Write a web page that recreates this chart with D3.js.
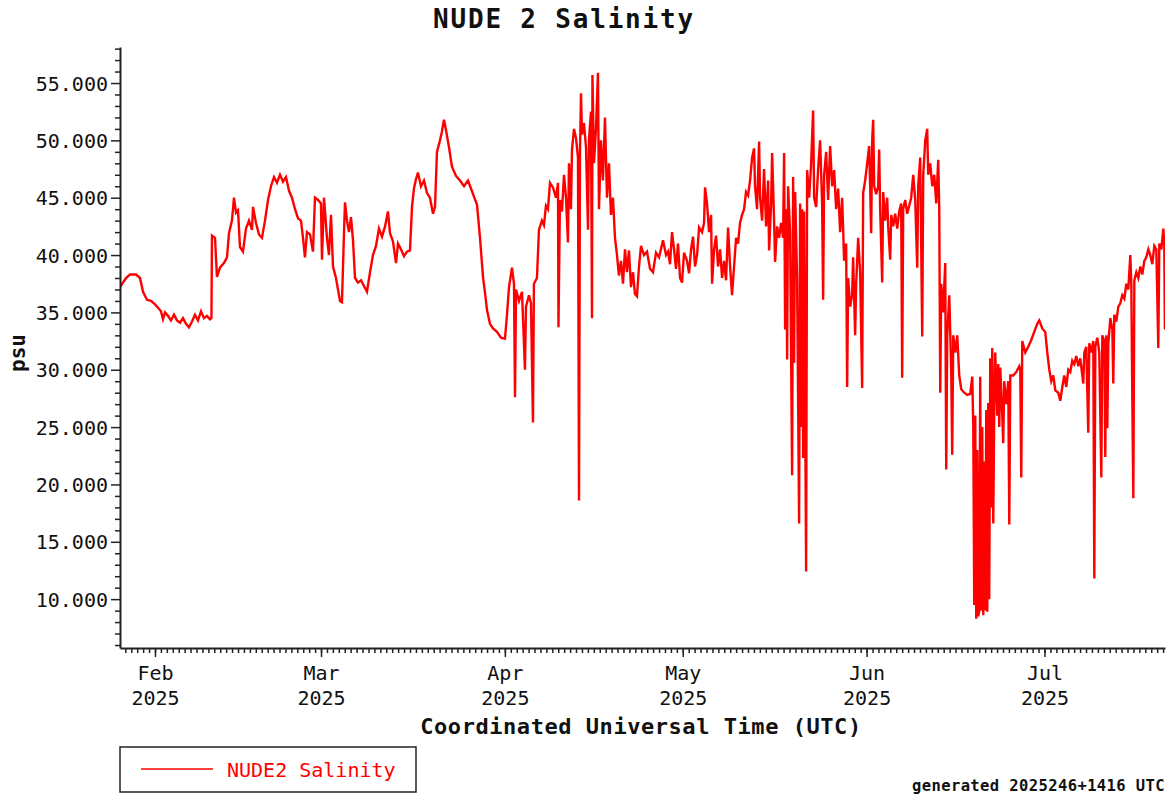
<!DOCTYPE html>
<html>
<head>
<meta charset="utf-8">
<script src="https://cdn.jsdelivr.net/npm/d3@7"></script>
<style>
  body { margin: 0; background: #fff; }
  text { font-family: "DejaVu Sans Mono", monospace; fill: #111; }
</style>
</head>
<body>
<div id="chart"></div>
<script>
// salinity readings: [day of 2025 counted from Jan 1 00:00 UTC, psu]
const readings = [
  [25.10,37.2],[25.60,37.6],[26.11,38.0],[26.78,38.3],[27.80,38.3],[28.47,38.0],[28.98,36.8],[29.65,36.1],
  [30.33,36.0],[31.00,35.7],[31.51,35.4],[32.01,35.1],[32.35,34.4],[32.69,35.0],[33.19,34.7],[33.70,34.3],
  [34.20,34.8],[34.71,34.3],[35.22,34.1],[35.72,34.5],[36.23,34.0],[36.73,33.7],[37.24,34.2],[37.75,34.8],
  [38.25,34.3],[38.76,35.1],[39.26,34.5],[39.77,34.7],[40.27,34.4],[40.52,34.5],[40.61,41.7],[41.12,41.5],
  [41.45,38.1],[41.96,38.9],[42.63,39.3],[43.14,39.8],[43.48,41.9],[43.98,43.0],[44.32,45.0],[44.66,43.7],
  [45.00,43.9],[45.33,40.7],[45.84,40.3],[46.34,42.3],[46.85,43.0],[47.36,42.2],[47.53,44.2],[48.03,42.8],
  [48.54,41.8],[49.04,41.5],[49.55,43.0],[50.06,44.8],[50.56,46.0],[51.07,46.8],[51.57,46.3],[52.08,47.0],
  [52.59,46.4],[53.09,46.8],[53.60,45.6],[54.10,45.0],[54.61,44.0],[55.12,43.2],[55.62,43.0],[55.96,41.5],
  [56.29,39.8],[56.63,42.0],[57.14,41.8],[57.64,40.3],[57.98,45.0],[58.49,44.8],[58.99,44.5],[59.16,39.6],
  [59.50,45.0],[60.00,41.5],[60.34,40.0],[60.68,43.5],[61.02,39.0],[61.52,38.0],[61.86,37.0],[62.20,36.0],
  [62.53,35.9],[62.87,41.9],[63.04,44.6],[63.38,43.0],[63.71,42.0],[64.05,43.3],[64.39,41.3],[64.73,38.0],
  [65.23,37.6],[65.74,37.8],[66.24,37.3],[66.75,36.8],[67.26,38.5],[67.76,40.0],[68.27,40.8],[68.77,42.3],
  [69.28,41.6],[69.79,42.5],[70.29,43.8],[70.63,41.9],[71.13,41.2],[71.64,39.3],[71.98,41.0],[72.48,40.5],
  [72.99,39.9],[73.49,40.3],[74.00,40.4],[74.34,44.2],[74.67,45.8],[75.01,46.6],[75.35,47.2],[75.85,46.0],
  [76.36,46.5],[76.87,45.4],[77.37,45.0],[77.88,43.6],[78.22,44.2],[78.55,49.0],[79.06,50.0],[79.40,50.8],
  [79.73,51.8],[80.07,50.9],[80.58,49.4],[81.08,47.7],[81.76,46.9],[82.43,46.5],[83.11,46.0],[83.78,46.5],
  [84.29,45.8],[84.79,45.1],[85.30,44.4],[85.81,41.5],[86.31,38.1],[86.65,36.7],[86.99,35.2],[87.49,34.0],
  [88.00,33.6],[88.67,33.3],[89.35,32.8],[90.02,32.7],[90.36,34.8],[90.70,37.2],[91.20,38.9],[91.54,37.5],
  [91.71,27.6],[91.88,37.0],[92.38,36.0],[92.89,36.8],[93.39,30.0],[93.56,35.5],[94.07,36.5],[94.40,35.8],
  [94.74,25.4],[94.90,37.5],[95.41,38.0],[95.75,42.2],[96.25,43.0],[96.59,42.6],[96.93,44.3],[97.27,44.0],
  [97.61,46.3],[98.11,45.9],[98.62,45.0],[98.96,46.3],[99.04,33.7],[99.29,44.8],[99.63,43.8],[99.97,47.0],
  [100.31,45.0],[100.64,41.1],[100.81,48.0],[101.15,44.0],[101.32,49.2],[101.66,51.0],[102.00,50.2],[102.33,48.5],
  [102.50,18.6],[102.67,49.0],[102.84,54.1],[103.01,50.5],[103.34,51.5],[103.68,49.4],[104.02,42.2],[104.18,50.0],
  [104.52,52.5],[104.69,34.5],[104.77,55.7],[105.03,48.0],[105.36,51.0],[105.70,55.9],[105.87,44.0],[106.21,50.0],
  [106.54,46.5],[106.88,52.0],[107.22,45.0],[107.56,48.0],[107.89,43.5],[108.23,45.0],[108.57,41.5],[108.91,40.0],
  [109.24,38.2],[109.58,39.5],[109.92,37.5],[110.26,40.5],[110.59,38.5],[110.93,40.4],[111.27,37.2],[111.61,38.5],
  [111.94,36.6],[112.28,36.4],[112.62,39.0],[112.96,40.8],[113.46,40.0],[113.97,40.3],[114.48,38.8],[114.98,38.5],
  [115.49,40.2],[116.00,39.8],[116.67,41.3],[117.18,40.0],[117.52,40.3],[117.85,39.2],[118.19,42.0],[118.53,40.5],
  [118.86,38.8],[119.20,41.0],[119.54,38.0],[119.88,37.6],[120.21,40.2],[120.72,39.5],[121.06,38.4],[121.40,40.5],
  [121.73,41.6],[122.07,39.0],[122.41,40.0],[122.75,42.4],[123.25,42.0],[123.59,42.8],[123.76,45.9],[124.09,44.5],
  [124.43,42.0],[124.77,43.5],[124.94,37.5],[125.28,40.5],[125.61,41.7],[125.95,39.0],[126.29,40.5],[126.63,38.0],
  [126.96,39.5],[127.30,37.8],[127.64,42.4],[127.98,39.0],[128.31,36.5],[128.65,39.0],[128.99,41.5],[129.32,41.0],
  [129.66,42.8],[130.00,43.5],[130.34,44.0],[130.67,45.5],[131.01,45.2],[131.35,46.5],[131.69,48.5],[132.02,49.3],
  [132.19,46.0],[132.53,44.0],[132.87,49.9],[133.04,45.0],[133.38,43.0],[133.71,47.5],[134.05,42.5],[134.39,46.5],
  [134.56,40.4],[134.90,44.5],[135.07,48.9],[135.40,43.0],[135.57,39.4],[135.91,42.5],[136.25,41.5],[136.58,42.8],
  [136.92,41.5],[137.09,48.9],[137.26,33.5],[137.43,44.0],[137.60,30.9],[137.76,46.0],[138.10,42.0],[138.44,20.8],
  [138.61,46.8],[138.78,30.6],[138.95,45.5],[139.28,38.0],[139.62,16.6],[139.79,44.5],[139.96,25.0],[140.13,44.0],
  [140.30,22.3],[140.46,43.8],[140.63,28.0],[140.80,12.4],[140.97,47.4],[141.31,45.0],[141.65,48.0],[141.98,52.6],
  [142.15,45.0],[142.49,44.2],[142.83,47.5],[143.16,50.0],[143.50,44.5],[143.67,36.1],[143.84,47.0],[144.18,49.0],
  [144.51,44.8],[144.85,49.5],[145.19,46.0],[145.53,47.4],[145.86,44.0],[146.20,45.8],[146.54,42.0],[146.88,45.0],
  [147.21,39.5],[147.55,41.0],[147.72,28.5],[147.89,38.0],[148.23,35.5],[148.56,36.5],[148.73,39.8],[149.07,33.0],
  [149.24,37.5],[149.58,41.5],[149.91,38.5],[150.25,28.4],[150.42,45.4],[150.76,46.5],[151.10,48.0],[151.43,49.5],
  [151.60,46.0],[151.77,41.9],[151.94,50.0],[152.11,51.8],[152.28,46.0],[152.62,45.3],[152.95,46.0],[153.12,49.2],
  [153.29,44.0],[153.63,37.6],[153.80,45.5],[154.13,43.0],[154.47,45.0],[154.64,42.5],[154.98,39.6],[155.15,43.5],
  [155.48,42.5],[155.82,43.6],[156.16,42.3],[156.50,43.8],[156.83,44.5],[157.00,29.3],[157.17,44.0],[157.51,44.8],
  [157.85,43.6],[158.19,44.3],[158.52,45.0],[158.86,47.0],[159.20,44.8],[159.54,38.9],[159.70,46.0],[160.04,48.5],
  [160.38,32.9],[160.55,47.0],[160.89,50.0],[161.22,51.0],[161.39,47.0],[161.73,48.0],[162.07,46.0],[162.41,47.0],
  [162.74,44.5],[163.08,48.3],[163.25,44.0],[163.42,28.0],[163.59,37.5],[163.92,35.0],[164.26,39.3],[164.43,21.3],
  [164.60,33.0],[164.94,36.5],[165.27,30.0],[165.44,22.6],[165.61,33.0],[165.95,31.5],[166.29,33.0],[166.62,29.5],
  [166.96,28.3],[167.47,28.0],[167.97,27.8],[168.48,27.9],[168.82,29.4],[168.99,25.0],[169.15,9.5],[169.32,26.0],
  [169.49,8.3],[169.66,23.0],[169.83,8.5],[170.00,9.0],[170.16,29.4],[170.33,9.0],[170.50,25.0],[170.67,8.6],
  [170.84,22.0],[171.01,9.0],[171.18,26.5],[171.35,8.9],[171.51,27.1],[171.68,10.0],[171.85,31.0],[172.02,18.0],
  [172.19,31.9],[172.36,16.6],[172.53,27.0],[172.69,31.5],[173.03,26.0],[173.20,30.5],[173.37,25.0],[173.54,30.2],
  [173.88,26.0],[174.04,23.6],[174.21,29.0],[174.55,27.0],[174.89,29.0],[175.06,16.5],[175.23,29.5],[175.73,29.5],
  [176.24,29.8],[176.74,30.3],[176.91,30.0],[177.08,20.6],[177.25,32.5],[177.76,31.5],[178.26,32.0],[178.77,32.6],
  [179.27,33.3],[179.78,34.0],[180.12,34.3],[180.62,33.6],[181.13,33.3],[181.47,31.5],[181.81,30.0],[182.14,29.0],
  [182.48,29.5],[182.82,28.2],[183.32,28.0],[183.66,27.3],[184.00,28.5],[184.33,29.5],[184.67,28.5],[185.01,30.0],
  [185.35,29.8],[185.68,30.8],[186.02,30.5],[186.36,31.2],[186.70,30.3],[187.03,31.0],[187.54,28.8],[187.71,31.5],
  [188.05,32.0],[188.38,24.5],[188.55,32.3],[188.89,31.5],[189.23,32.5],[189.40,11.8],[189.57,32.0],[189.90,32.8],
  [190.24,31.5],[190.58,20.6],[190.75,33.0],[191.09,32.5],[191.25,22.4],[191.42,33.0],[191.59,24.9],[191.76,32.3],
  [192.10,34.5],[192.44,33.5],[192.60,28.8],[192.77,34.8],[193.11,34.2],[193.45,35.5],[193.78,35.8],[194.12,36.5],
  [194.46,36.2],[194.80,37.5],[195.13,37.0],[195.47,40.0],[195.64,37.5],[195.81,27.5],[195.98,18.8],[196.15,37.8],
  [196.48,38.5],[196.82,38.0],[197.16,39.0],[197.50,38.3],[197.83,39.5],[198.17,39.8],[198.51,40.5],[198.84,40.0],
  [199.18,39.2],[199.52,40.8],[199.86,40.5],[200.19,31.9],[200.36,41.0],[200.70,40.5],[201.04,42.3],[201.20,41.0],
  [201.30,33.5]
];

const yMajorTicks = [10, 15, 20, 25, 30, 35, 40, 45, 50, 55];
const yMinorTicks = d3.range(6, 59).filter(v => v % 5 !== 0);
const dayDomain = [25.1, 201.32];
const yDomain = [5.74, 58.14];

const title = 'NUDE 2 Salinity';
const xTitle = 'Coordinated Universal Time (UTC)';
const yTitle = 'psu';
const seriesName = 'NUDE2 Salinity';
const footer = 'generated 2025246+1416 UTC';

const toDate = d => new Date(Date.UTC(2025, 0, 1) + d * 864e5);

const plotLeft = 120, plotRight = 1165, plotTop = 47, plotBottom = 648;

const svg = d3.select('div#chart')
    .append('svg')
    .attr('width', 1173)
    .attr('height', 799);

const x = d3.scaleUtc()
    .domain(dayDomain.map(toDate))
    .range([plotLeft, plotRight]);
const y = d3.scaleLinear()
    .domain(yDomain)
    .range([plotBottom, plotTop]);

svg.append('clipPath').attr('id', 'plot')
    .append('rect')
    .attr('x', plotLeft).attr('y', plotTop)
    .attr('width', plotRight - plotLeft).attr('height', plotBottom - plotTop);

// data line
const line = d3.line()
    .x(d => x(toDate(d[0])))
    .y(d => y(d[1]));

svg.append('path')
    .datum(readings)
    .attr('clip-path', 'url(#plot)')
    .attr('d', line)
    .attr('fill', 'none')
    .attr('stroke', '#ff0000')
    .attr('stroke-width', 2.4)
    .attr('stroke-linejoin', 'miter');

// y axis
const yMinor = svg.append('g')
    .attr('transform', `translate(${plotLeft},0)`)
    .call(d3.axisLeft(y).tickValues(yMinorTicks).tickSize(5).tickSizeOuter(0).tickFormat(''));
yMinor.select('.domain').remove();

const yAxis = svg.append('g')
    .attr('transform', `translate(${plotLeft},0)`)
    .call(d3.axisLeft(y).tickValues(yMajorTicks).tickSize(9).tickSizeOuter(0)
        .tickPadding(3).tickFormat(d3.format('.3f')));
yAxis.selectAll('text')
    .attr('font-size', 20)
    .attr('font-family', '"DejaVu Sans Mono", monospace')
    .attr('dy', '0.36em');

// x axis
const days = d3.utcDay.range(x.domain()[0], x.domain()[1]);
const months = d3.utcMonth.range(x.domain()[0], x.domain()[1]);

svg.append('g')
    .attr('transform', `translate(0,${plotBottom})`)
    .call(d3.axisBottom(x).tickValues(days).tickSize(5).tickSizeOuter(0).tickFormat(''))
    .select('.domain').remove();

const xAxis = svg.append('g')
    .attr('transform', `translate(0,${plotBottom})`)
    .call(d3.axisBottom(x).tickValues(months).tickSize(9).tickSizeOuter(0).tickFormat(''));

xAxis.selectAll('.tick')
    .append('text')
    .attr('text-anchor', 'middle')
    .attr('font-size', 20)
    .attr('font-family', '"DejaVu Sans Mono", monospace')
    .attr('fill', '#111')
    .each(function(d) {
        const t = d3.select(this);
        t.append('tspan').attr('x', 0).attr('y', 32).text(d3.utcFormat('%b')(d));
        t.append('tspan').attr('x', 0).attr('y', 57).text(d3.utcFormat('%Y')(d));
    });

svg.selectAll('.domain')
    .attr('stroke', '#222')
    .attr('stroke-width', 2);
svg.selectAll('.tick line')
    .attr('stroke', '#222')
    .attr('stroke-width', 1.5);

// titles
svg.append('text')
    .attr('x', 564).attr('y', 28)
    .attr('text-anchor', 'middle')
    .attr('font-size', 26)
    .attr('font-weight', 'bold')
    .attr('letter-spacing', 1.8)
    .text(title);

svg.append('text')
    .attr('x', 641).attr('y', 734)
    .attr('text-anchor', 'middle')
    .attr('font-size', 22)
    .attr('font-weight', 'bold')
    .attr('letter-spacing', 0.55)
    .text(xTitle);

svg.append('text')
    .attr('transform', 'translate(25,353) rotate(-90)')
    .attr('text-anchor', 'middle')
    .attr('font-size', 21)
    .attr('font-weight', 'bold')
    .text(yTitle);

// legend
svg.append('rect')
    .attr('x', 120).attr('y', 747)
    .attr('width', 296).attr('height', 45)
    .attr('fill', 'none')
    .attr('stroke', '#222')
    .attr('stroke-width', 1.5);

svg.append('line')
    .attr('x1', 141).attr('x2', 213)
    .attr('y1', 769).attr('y2', 769)
    .attr('stroke', '#ff0000')
    .attr('stroke-width', 1.5);

svg.append('text')
    .attr('x', 227).attr('y', 777)
    .attr('font-size', 20)
    .style('fill', '#ff0000')
    .text(seriesName);

svg.append('text')
    .attr('x', 1165).attr('y', 791)
    .attr('text-anchor', 'end')
    .attr('font-size', 15.5)
    .attr('font-weight', 'bold')
    .attr('letter-spacing', 0.4)
    .text(footer);
</script>
</body>
</html>
